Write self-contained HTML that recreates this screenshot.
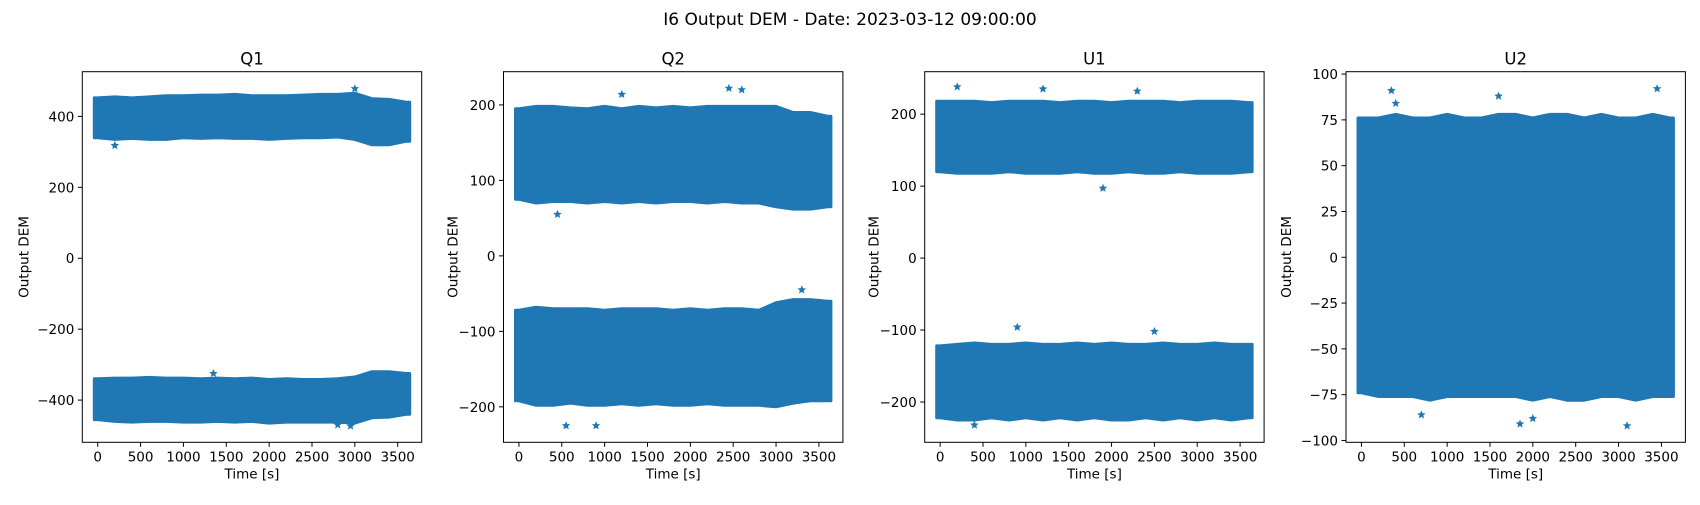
<!DOCTYPE html>
<html><head><meta charset="utf-8">
<style>
body{margin:0;background:#fff;font-family:"Liberation Sans","DejaVu Sans",sans-serif;}
svg text{font-family:"DejaVu Sans","Liberation Sans",sans-serif;fill:#000;}
</style></head>
<body>
<svg id="fig" width="1700" height="500" viewBox="0 0 1700 500">
<text x="850" y="25" font-size="17" text-anchor="middle">I6 Output DEM - Date: 2023-03-12 09:00:00</text>
</svg>
<script>
const times=[0,200,400,600,800,1000,1200,1400,1600,1800,2000,2200,2400,2600,2800,3000,3200,3400,3600];
const xTicks=[0,500,1000,1500,2000,2500,3000,3500];
const panelTitles=["Q1","Q2","U1","U2"];
const yLimits=[[-519,526],[-247,244],[-256,259],[-101,101.3]];
const yTicksQ1=[-400,-200,0,200,400];
const yTicksQ2=[-200,-100,0,100,200];
const yTicksU1=[-200,-100,0,100,200];
const yTicksU2=[-100,-75,-50,-25,0,25,50,75,100];
const q1HiTop=[452,455,452,455,458,458,460,460,462,458,458,458,460,462,462,465,450,448,440];
const q1HiBot=[340,335,338,335,335,340,338,340,338,338,335,338,340,340,342,335,320,320,330];
const q1LoTop=[-340,-338,-338,-336,-338,-338,-340,-338,-340,-338,-342,-340,-342,-342,-340,-335,-320,-320,-325];
const q1LoBot=[-455,-460,-462,-460,-460,-462,-462,-460,-462,-460,-465,-462,-462,-462,-462,-465,-450,-448,-440];
const q2HiTop=[195,198,198,196,195,198,195,198,196,198,196,198,198,198,198,198,190,190,185];
const q2HiBot=[75,70,72,72,70,72,70,72,70,72,72,70,72,70,70,65,62,62,65];
const q2LoTop=[-72,-68,-70,-70,-70,-72,-70,-70,-70,-72,-70,-72,-70,-70,-72,-62,-58,-58,-60];
const q2LoBot=[-192,-198,-198,-195,-198,-198,-196,-198,-196,-198,-198,-196,-198,-198,-198,-200,-195,-192,-192];
const u1HiTop=[218,218,218,216,218,218,218,216,218,218,216,218,218,218,216,218,218,218,216];
const u1HiBot=[120,118,118,118,120,118,118,118,120,118,118,120,118,118,120,118,118,118,120];
const u1LoTop=[-122,-120,-118,-120,-120,-118,-120,-120,-118,-120,-118,-120,-120,-118,-120,-120,-118,-120,-120];
const u1LoBot=[-222,-225,-225,-222,-225,-222,-225,-222,-225,-222,-225,-225,-222,-225,-222,-225,-222,-225,-222];
const u2Top=[76,76,78,76,76,78,76,76,78,78,76,78,78,76,78,76,76,78,76];
const u2Bot=[-74,-76,-76,-76,-78,-76,-76,-76,-76,-76,-78,-76,-78,-78,-76,-76,-78,-76,-76];
const q1Out=[[3000,478],[200,318],[2800,-470],[2950,-473],[1350,-325],[3300,-440]];
const q2Out=[[2450,222],[1200,214],[2600,220],[550,-225],[900,-225],[3300,-45],[450,55]];
const u1Out=[[200,238],[1200,235],[2300,232],[900,-96],[1900,97],[2500,-102],[400,-232]];
const u2Out=[[350,91],[3450,92],[3100,-92],[1850,-91],[2000,-88],[1600,88],[400,84],[700,-86]];
const bands=[[[q1HiTop,q1HiBot],[q1LoTop,q1LoBot]],[[q2HiTop,q2HiBot],[q2LoTop,q2LoBot]],[[u1HiTop,u1HiBot],[u1LoTop,u1LoBot]],[[u2Top,u2Bot]]];
const outs=[q1Out,q2Out,u1Out,u2Out];
const yTickSets=[yTicksQ1,yTicksQ2,yTicksU1,yTicksU2];

const NS="http://www.w3.org/2000/svg";
const fig=document.getElementById('fig');
function mk(tag,attrs,parent){const e=document.createElementNS(NS,tag);for(const k in attrs)e.setAttribute(k,attrs[k]);(parent||fig).appendChild(e);return e;}
const lefts=[82.3,503.5,924.7,1346];
const axTop=71.7,axBottom=442.3,W=339.4;
const C="#1f77b4";
function star(cx,cy,r){let p=[];for(let i=0;i<10;i++){const a=-Math.PI/2+i*Math.PI/5;const rr=i%2?r*0.45:r;p.push((cx+rr*Math.cos(a)).toFixed(1)+","+(cy+rr*Math.sin(a)).toFixed(1));}return p.join(" ");}
for(let p=0;p<4;p++){
  const L=lefts[p];
  const g=mk('g',{});
  
  
  const x=t=>L+(t+180)/3960*W;
  const y0=yLimits[p][0],y1=yLimits[p][1];
  const y=v=>axBottom-(v-y0)/(y1-y0)*(axBottom-axTop);
  bands[p].forEach((b,bi)=>{
    const tp=b[0],bt=b[1];
    let d="M"+x(-40).toFixed(1)+","+y(tp[0]).toFixed(1);
    times.forEach((t,i)=>{d+=" L"+x(t).toFixed(1)+","+y(tp[i]).toFixed(1);});
    d+=" L"+x(3640).toFixed(1)+","+y(tp[tp.length-1]).toFixed(1)+" L"+x(3640).toFixed(1)+","+y(bt[bt.length-1]).toFixed(1);
    for(let i=times.length-1;i>=0;i--)d+=" L"+x(times[i]).toFixed(1)+","+y(bt[i]).toFixed(1);
    d+=" L"+x(-40).toFixed(1)+","+y(bt[0]).toFixed(1)+"Z";
    const path=mk('path',{d:d,fill:C,stroke:C,'stroke-width':3,'stroke-linejoin':'round'},g);
    
    
  });
  outs[p].forEach(o=>{
    const s=mk('polygon',{points:star(x(o[0]),y(o[1]),4.5),fill:C},g);
    
    
  });
  const frame=mk('rect',{x:L,y:axTop,width:W,height:axBottom-axTop,fill:'none',stroke:'#000','stroke-width':1},g);
  
  
  xTicks.forEach(t=>{
    mk('line',{x1:x(t),x2:x(t),y1:axBottom,y2:axBottom+4.5,stroke:'#000'},g);
    const tx=mk('text',{x:x(t),y:axBottom+19,'font-size':13.5,'text-anchor':'middle'},g);
    tx.textContent=t;
    
    
  });
  yTickSets[p].forEach(v=>{
    mk('line',{x1:L-4.5,x2:L,y1:y(v),y2:y(v),stroke:'#000'},g);
    const tx=mk('text',{x:L-8,y:y(v)+5,'font-size':13.5,'text-anchor':'end'},g);
    tx.textContent=v<0?'\u2212'+(-v):v;
    
    
  });
  const ti=mk('text',{x:L+W/2,y:axTop-7,'font-size':16.5,'text-anchor':'middle'},g);
  ti.textContent=panelTitles[p];
  
  
  const xl=mk('text',{x:L+W/2,y:axBottom+36,'font-size':13.5,'text-anchor':'middle'},g);
  xl.textContent='Time [s]';
  
  
  const yx=L-(p==3?55:(p==0?54:46)), yy=(axTop+axBottom)/2;
  const yl=mk('text',{x:yx,y:yy,'font-size':13.5,'text-anchor':'middle',transform:'rotate(-90 '+yx+' '+yy+')'},g);
  yl.textContent='Output DEM';
  
  
}
</script>
</body></html>
